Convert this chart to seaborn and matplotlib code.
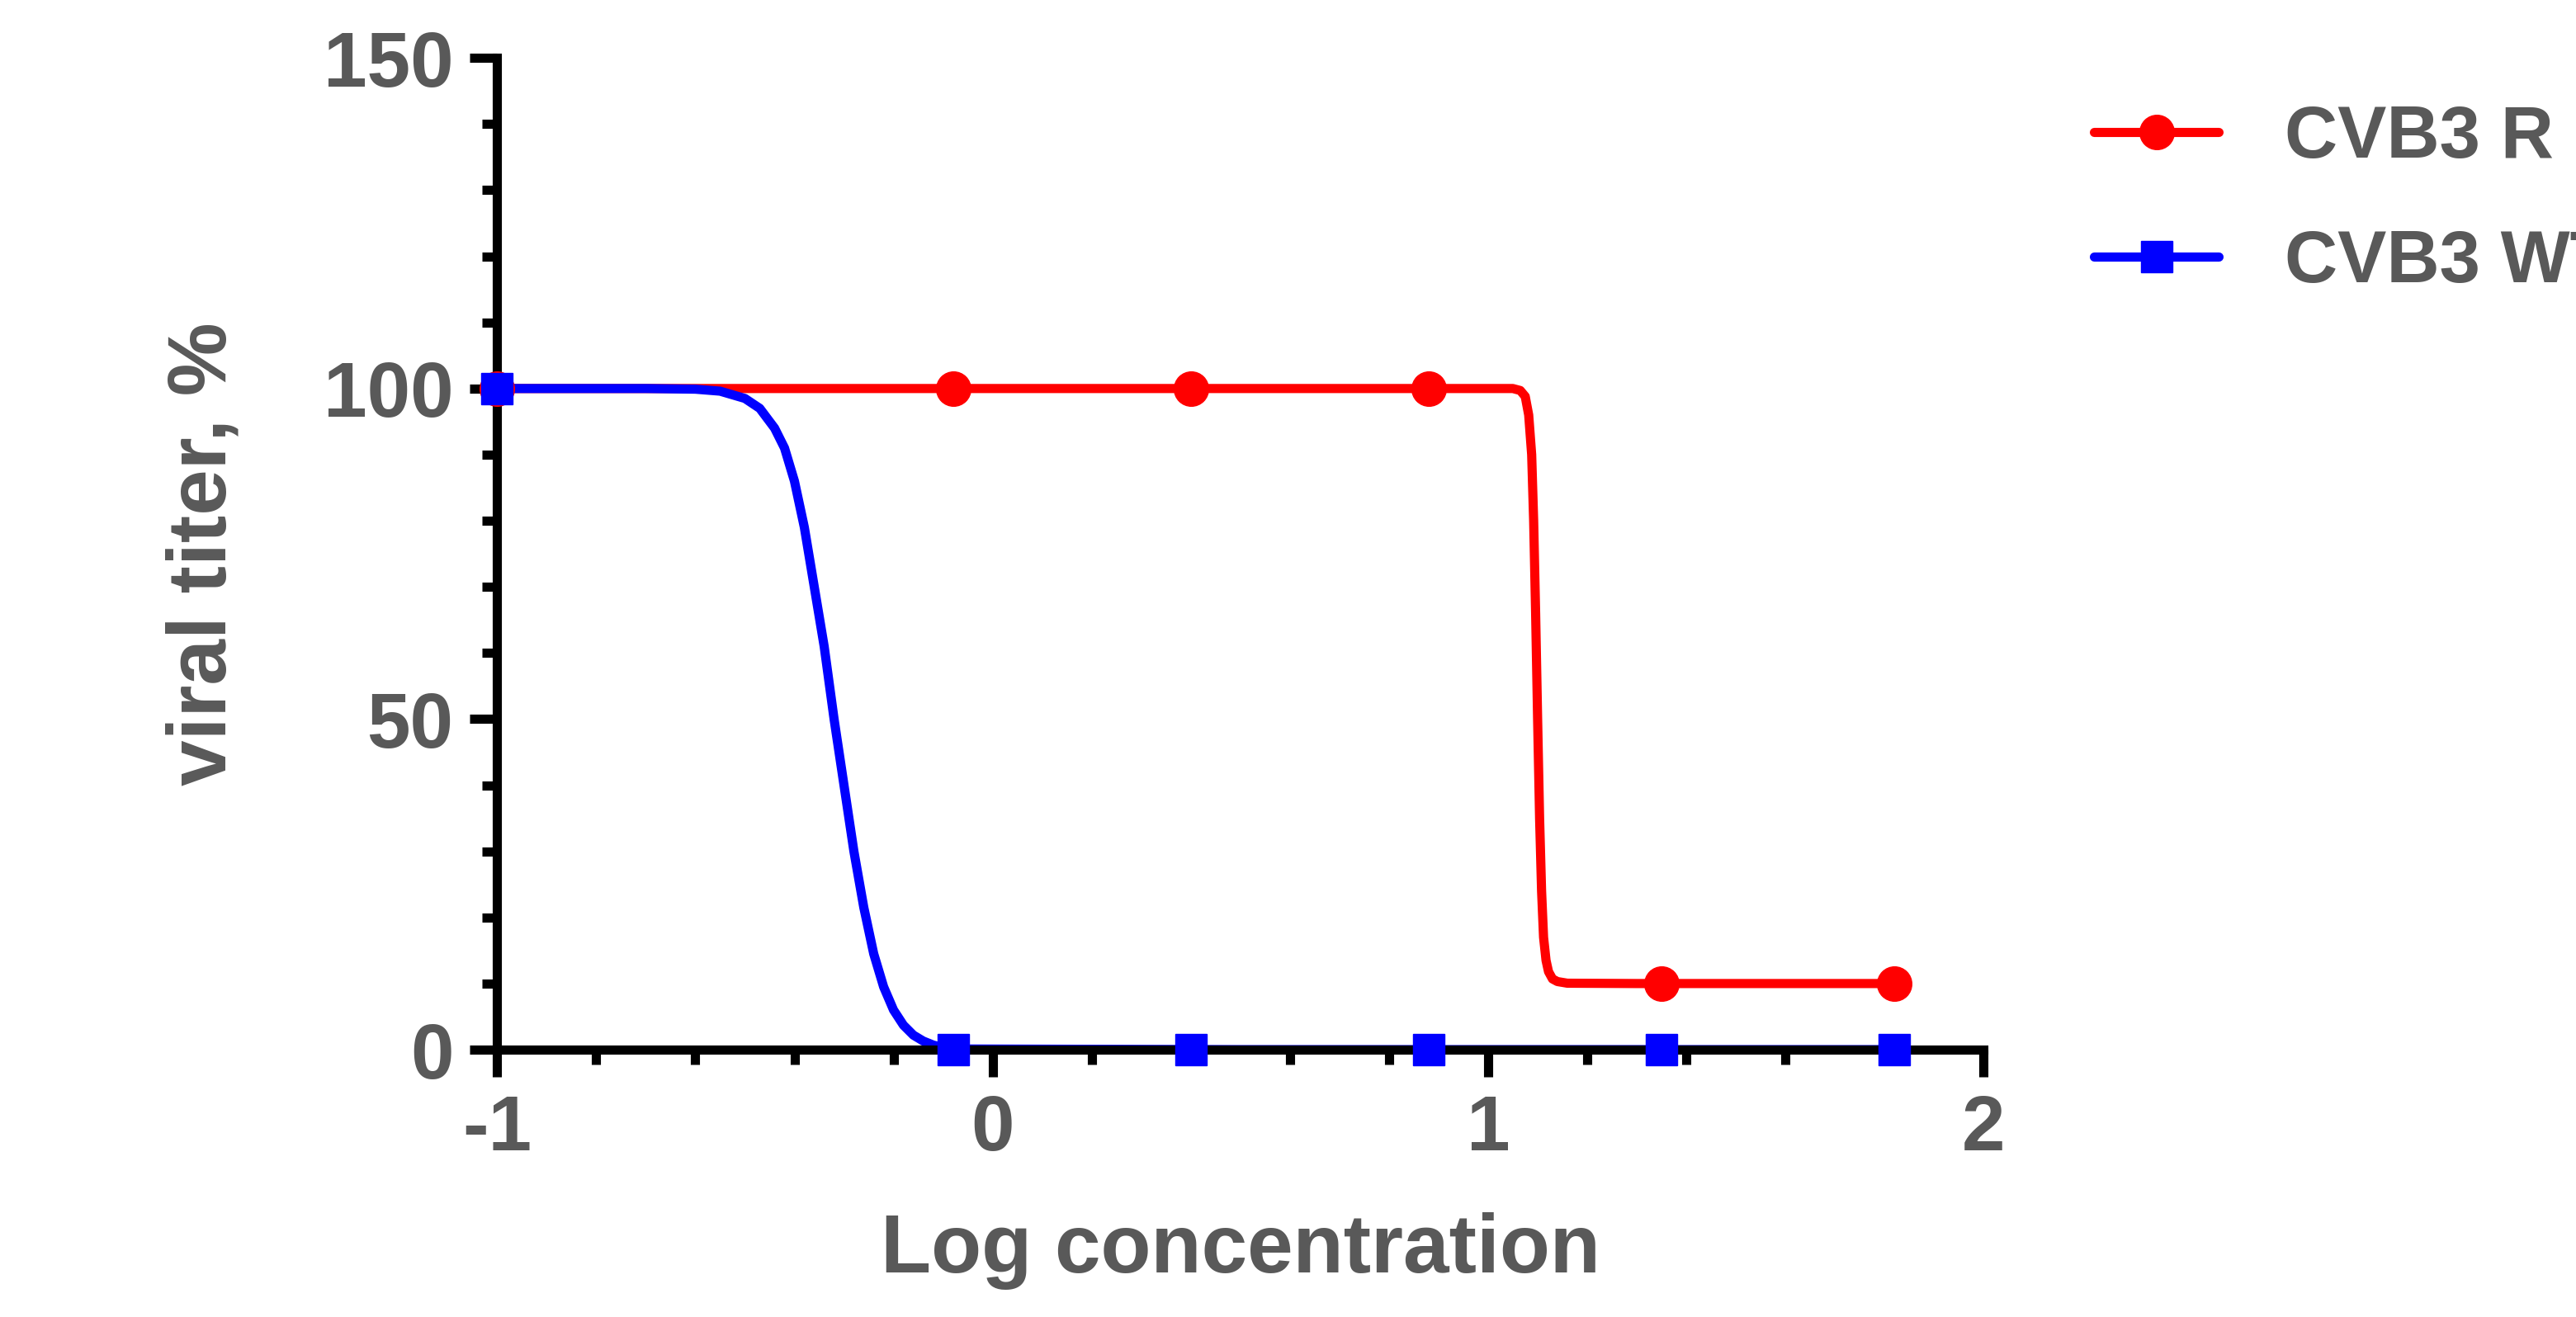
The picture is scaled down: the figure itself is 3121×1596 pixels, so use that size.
from matplotlib import pyplot as plt
from matplotlib.ticker import MultipleLocator
import pandas as pd
import seaborn as sns

# measured points
log_conc = [-1.0, -0.08, 0.4, 0.88, 1.35, 1.82]
titer_r = [100, 100, 100, 100, 10, 10]
titer_wt = [100, 0, 0, 0, 0, 0]

# fitted curves
curve_r_x = [-1.0, 0.5, 1.0, 1.05, 1.065, 1.075, 1.082, 1.088, 1.092, 1.096, 1.10, 1.104,
             1.108, 1.112, 1.117, 1.122, 1.13, 1.14, 1.16, 1.3, 1.82]
curve_r_y = [100, 100, 100, 100, 99.7, 98.8, 96, 90, 80, 66, 50, 35, 24, 17, 13.5, 11.8,
             10.7, 10.3, 10.05, 10, 10]
curve_wt_x = [-1.0, -0.7, -0.6, -0.55, -0.5, -0.47, -0.44, -0.42, -0.40, -0.38, -0.36,
              -0.34, -0.32, -0.30, -0.28, -0.26, -0.24, -0.22, -0.20, -0.18, -0.16,
              -0.14, -0.12, -0.10, -0.08, 0.5, 1.82]
curve_wt_y = [100, 100, 99.9, 99.6, 98.5, 97, 94, 91, 86, 79, 70, 61, 50, 40, 30, 21.5,
              14.5, 9.5, 6, 3.7, 2.2, 1.3, 0.7, 0.3, 0.1, 0, 0]

RED = "#ff0000"
BLUE = "#0000ff"
GREY = "#595959"

sns.set_style("ticks")
plt.rcParams["font.family"] = ["Liberation Sans", "DejaVu Sans"]

fig = plt.figure(figsize=(31.21, 15.96), dpi=100)
ax = fig.add_axes([0.193, 0.203, 0.577, 0.753])

curves = pd.DataFrame({"x": curve_r_x + curve_wt_x,
                       "y": curve_r_y + curve_wt_y,
                       "s": ["CVB3 R"] * len(curve_r_x) + ["CVB3 WT"] * len(curve_wt_x)})
pts = pd.DataFrame({"x": log_conc * 2, "y": titer_r + titer_wt,
                    "s": ["CVB3 R"] * 6 + ["CVB3 WT"] * 6})

sns.lineplot(data=curves, x="x", y="y", hue="s", palette=[RED, BLUE],
             linewidth=8, ax=ax, legend=False, clip_on=False, sort=False)
for name, col, mk in [("CVB3 R", RED, "o"), ("CVB3 WT", BLUE, "s")]:
    d = pts[pts.s == name]
    ax.plot(d.x, d.y, marker=mk, color=col, markersize=30 if mk == "o" else 27,
            linestyle="none", clip_on=False, zorder=5)

# legend proxies
h1, = ax.plot([], [], color=RED, marker="o", markersize=30, linewidth=8)
h2, = ax.plot([], [], color=BLUE, marker="s", markersize=27, linewidth=8)
ax.legend([h1, h2], ["CVB3 R", "CVB3 WT"], loc="upper left", bbox_to_anchor=(1.03, 1.02),
          frameon=False, prop={"size": 64, "weight": "bold"}, labelcolor=GREY,
          handlelength=1.7, labelspacing=0.75, handletextpad=0.9)

ax.set_xlim(-1, 2)
ax.set_ylim(0, 150)
ax.xaxis.set_major_locator(MultipleLocator(1))
ax.xaxis.set_minor_locator(MultipleLocator(0.2))
ax.yaxis.set_major_locator(MultipleLocator(50))
ax.yaxis.set_minor_locator(MultipleLocator(10))
ax.set_xticks([-1, 0, 1, 2], ["-1", "0", "1", "2"])

sns.despine(ax=ax)
for sp in ["left", "bottom"]:
    ax.spines[sp].set_linewidth(8)
    ax.spines[sp].set_color("black")
ax.tick_params(which="major", length=24, width=8, labelsize=68, labelcolor=GREY,
               color="black", pad=14)
ax.tick_params(which="minor", length=13, width=8, color="black")
for lab in ax.get_xticklabels() + ax.get_yticklabels():
    lab.set_fontweight("bold")

ax.set_xlabel("Log concentration", fontsize=72, fontweight="bold", color=GREY, labelpad=40)
ax.set_ylabel("viral titer, %", fontsize=72, fontweight="bold", color=GREY, labelpad=70)

fig.savefig("out.png", dpi=100)
